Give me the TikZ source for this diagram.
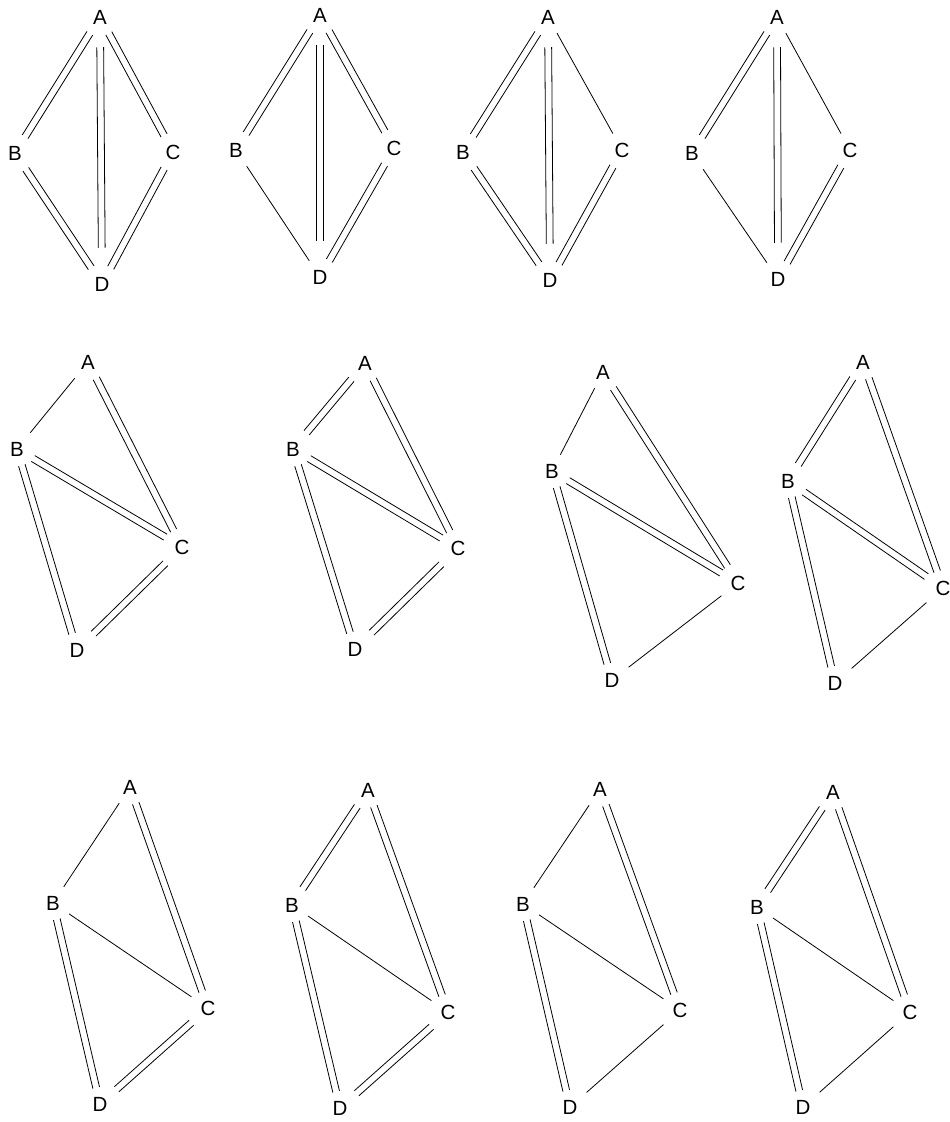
\documentclass[tikz,border=0pt]{standalone}
\usepackage{fontspec}
\setmainfont{Liberation Sans}
\usepackage{tikz}
\usetikzlibrary{calc}

% two open parallel rails between two named nodes
\newcommand{\dbond}[3][]{%
  \path (#2) -- (#3) coordinate[pos=0] (s) coordinate[pos=1] (t);
  \draw[single,#1] ($(s)!3.4pt!90:(t)$) -- ($(t)!3.4pt!-90:(s)$);
  \draw[single,#1] ($(s)!3.4pt!-90:(t)$) -- ($(t)!3.4pt!90:(s)$);
}

\begin{document}
\begin{tikzpicture}[x=1pt, y=-1pt,
    vtx/.style={inner sep=9pt, font=\fontsize{20.5}{20.5}\selectfont},
    single/.style={line width=0.8pt},
    axis/.style={shorten <=14pt, shorten >=20pt}]
\useasboundingbox (0,0) rectangle (950,1122);

% row 1
\node[vtx] (A1) at (100,17) {A};
\node[vtx] (B1) at (15,153) {B};
\node[vtx] (C1) at (173,152) {C};
\node[vtx] (D1) at (102,284) {D};
\dbond{A1}{B1} \dbond{A1}{C1} \dbond{B1}{D1} \dbond{C1}{D1}
\dbond[axis]{A1}{D1}

\node[vtx] (A2) at (320,15) {A};
\node[vtx] (B2) at (236,150) {B};
\node[vtx] (C2) at (394,148) {C};
\node[vtx] (D2) at (320,277) {D};
\dbond{A2}{B2} \dbond{A2}{C2} \dbond{C2}{D2}
\dbond[axis]{A2}{D2}
\draw[single] (B2) -- (D2);

\node[vtx] (A3) at (548,17) {A};
\node[vtx] (B3) at (463,152) {B};
\node[vtx] (C3) at (622,150) {C};
\node[vtx] (D3) at (550,280) {D};
\dbond{A3}{B3} \dbond{B3}{D3} \dbond{C3}{D3}
\dbond[axis]{A3}{D3}
\draw[single] (A3) -- (C3);

\node[vtx] (A4) at (777,17) {A};
\node[vtx] (B4) at (692,153) {B};
\node[vtx] (C4) at (850,150) {C};
\node[vtx] (D4) at (778,279) {D};
\dbond{A4}{B4} \dbond{C4}{D4}
\dbond[axis]{A4}{D4}
\draw[single] (A4) -- (C4) (B4) -- (D4);

% row 2
\node[vtx] (A5) at (88,362) {A};
\node[vtx] (B5) at (17,449) {B};
\node[vtx] (C5) at (182,547) {C};
\node[vtx] (D5) at (77,650) {D};
\dbond{A5}{C5} \dbond{B5}{C5} \dbond{B5}{D5} \dbond{C5}{D5}
\draw[single] (A5) -- (B5);

\node[vtx] (A6) at (365,363) {A};
\node[vtx] (B6) at (293,449) {B};
\node[vtx] (C6) at (458,548) {C};
\node[vtx] (D6) at (355,649) {D};
\dbond{A6}{B6} \dbond{A6}{C6} \dbond{B6}{C6} \dbond{B6}{D6} \dbond{C6}{D6}

\node[vtx] (A7) at (603,372) {A};
\node[vtx] (B7) at (552,471) {B};
\node[vtx] (C7) at (738,583) {C};
\node[vtx] (D7) at (612,680) {D};
\dbond{A7}{C7} \dbond{B7}{C7} \dbond{B7}{D7}
\draw[single] (A7) -- (B7) (C7) -- (D7);

\node[vtx] (A8) at (863,362) {A};
\node[vtx] (B8) at (788,481) {B};
\node[vtx] (C8) at (943,588) {C};
\node[vtx] (D8) at (835,683) {D};
\dbond{A8}{B8} \dbond{A8}{C8} \dbond{B8}{C8} \dbond{B8}{D8}
\draw[single] (C8) -- (D8);

% row 3
\node[vtx] (A9) at (130,787) {A};
\node[vtx] (B9) at (53,903) {B};
\node[vtx] (C9) at (208,1008) {C};
\node[vtx] (D9) at (100,1104) {D};
\dbond{A9}{C9} \dbond{B9}{D9} \dbond{C9}{D9}
\draw[single] (A9) -- (B9) (B9) -- (C9);

\node[vtx] (A10) at (368,790) {A};
\node[vtx] (B10) at (292,905) {B};
\node[vtx] (C10) at (448,1012) {C};
\node[vtx] (D10) at (340,1108) {D};
\dbond{A10}{B10} \dbond{A10}{C10} \dbond{B10}{D10} \dbond{C10}{D10}
\draw[single] (B10) -- (C10);

\node[vtx] (A11) at (600,789) {A};
\node[vtx] (B11) at (523,904) {B};
\node[vtx] (C11) at (680,1010) {C};
\node[vtx] (D11) at (570,1107) {D};
\dbond{A11}{C11} \dbond{B11}{D11}
\draw[single] (A11) -- (B11) (B11) -- (C11) (C11) -- (D11);

\node[vtx] (A12) at (833,792) {A};
\node[vtx] (B12) at (757,907) {B};
\node[vtx] (C12) at (910,1012) {C};
\node[vtx] (D12) at (803,1107) {D};
\dbond{A12}{B12} \dbond{A12}{C12} \dbond{B12}{D12}
\draw[single] (B12) -- (C12) (C12) -- (D12);
\end{tikzpicture}
\end{document}
